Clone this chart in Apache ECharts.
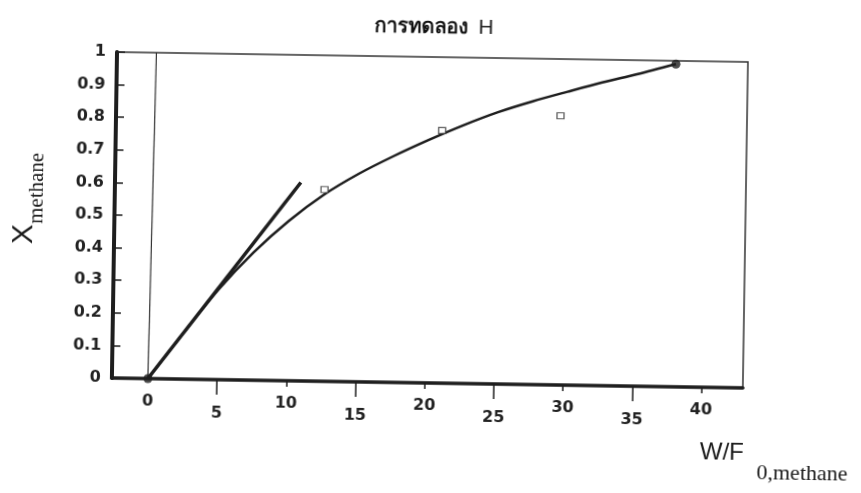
<!DOCTYPE html>
<html>
<head>
<meta charset="utf-8">
<script src="https://cdn.jsdelivr.net/npm/echarts@6/dist/echarts.min.js"></script>
<style>
html,body{margin:0;padding:0;background:#fff;overflow:hidden;}
#c{position:absolute;left:0;top:0;width:861px;height:493px;transform:rotate(0.9deg);transform-origin:50% 50%;}
</style>
</head>
<body>
<div id="c"></div>
<script>
// ---- data ----
const titleMain = 'การทดลอง';
const titleSuffix = 'H';
const xMajorLabels = [0, 10, 20, 30, 40];
const xMinorLabels = [5, 15, 25, 35];
const xShortTicks = [10, 20, 30, 40];
const xLongTicks = [5, 15, 25, 35];
const curveX = [0, 2.5, 5, 7.5, 10, 12.5, 15, 17.5, 20, 22.5, 25, 27.5, 30, 32.5, 35, 37.8];
const curveY = [0, 0.14, 0.276, 0.392, 0.49, 0.572, 0.638, 0.694, 0.745, 0.792, 0.834, 0.869, 0.9, 0.93, 0.957, 0.99];
const tangentX = [0, 10.83];
const tangentY = [0, 0.609];
const squareX = [12.55, 20.98, 29.52];
const squareY = [0.588, 0.775, 0.826];
const dotX = [0, 37.8];
const dotY = [0, 0.99];
const refLineX = [0, 0.25];
const refLineY = [0, 1];

const zip = (a, b) => a.map((v, i) => [v, b[i]]);
const ink = '#1e1e1e';
const tickFont = { fontFamily: 'DejaVu Sans', fontWeight: 'bold', fontSize: 16, color: '#222' };

const chart = echarts.init(document.getElementById('c'), null, { renderer: 'canvas' });
chart.setOption({
  animation: false,
  backgroundColor: '#fff',
  title: {
    text: '{t|' + titleMain + '}  {h|' + titleSuffix + '}',
    left: 'center',
    top: 12,
    textStyle: {
      rich: {
        t: { fontSize: 20, fontWeight: 'bold', color: '#111', fontFamily: 'Noto Sans, DejaVu Sans, sans-serif' },
        h: { fontSize: 21, fontWeight: 'normal', color: '#222', fontFamily: 'Liberation Sans, Arial, sans-serif' }
      }
    }
  },
  grid: { left: 114, right: 116, top: 57, bottom: 110, show: true, borderColor: '#333', borderWidth: 1.5, backgroundColor: 'transparent' },
  xAxis: [
    {
      type: 'value', min: -2.6, max: 43, position: 'bottom',
      axisLine: { show: true, onZero: false, lineStyle: { color: ink, width: 3.5 } },
      axisTick: { show: true, customValues: xShortTicks, length: 6, lineStyle: { color: ink, width: 1.5 } },
      axisLabel: Object.assign({ customValues: xMajorLabels, margin: 15 }, tickFont),
      splitLine: { show: false }
    },
    {
      type: 'value', min: -2.6, max: 43, position: 'bottom', offset: 0,
      axisLine: { show: false, onZero: false },
      axisTick: { show: true, customValues: xLongTicks, length: 15, lineStyle: { color: ink, width: 1.5 } },
      axisLabel: Object.assign({ customValues: xMinorLabels, margin: 26 }, tickFont),
      splitLine: { show: false }
    }
  ],
  yAxis: {
    type: 'value', min: 0, max: 1, interval: 0.1,
    axisLine: { show: true, onZero: false, lineStyle: { color: ink, width: 4 } },
    axisTick: { show: true, inside: true, length: 8, lineStyle: { color: ink, width: 1.5 } },
    axisLabel: Object.assign({ margin: 11 }, tickFont),
    splitLine: { show: false }
  },
  graphic: [
    {
      type: 'group', x: 23.3, y: 240.4, rotation: Math.PI / 2,
      children: [
        { type: 'text', x: 0, y: 0, style: { text: 'X', font: '30px "Liberation Sans", Arial, sans-serif', fill: '#1a1a1a', align: 'center', verticalAlign: 'middle' } },
        { type: 'text', x: 46, y: 13, style: { text: 'methane', font: '21px "Liberation Serif", serif', fill: '#1a1a1a', align: 'center', verticalAlign: 'middle' } }
      ]
    },
    { type: 'text', x: 703, y: 448.5, style: { text: 'W/F', font: '24px "Liberation Sans", Arial, sans-serif', fill: '#1a1a1a', align: 'left', verticalAlign: 'middle' } },
    { type: 'text', x: 760, y: 468, style: { text: '0,methane', font: '22px "Liberation Serif", serif', fill: '#1a1a1a', align: 'left', verticalAlign: 'middle' } }
  ],
  series: [
    { type: 'line', data: zip(refLineX, refLineY), symbol: 'none', lineStyle: { color: '#333', width: 1.2 }, clip: false, z: 2 },
    { type: 'line', data: zip(tangentX, tangentY), symbol: 'none', lineStyle: { color: ink, width: 3.5 }, clip: false, z: 3 },
    { type: 'line', data: zip(curveX, curveY), symbol: 'none', smooth: 0.3, lineStyle: { color: ink, width: 2.5 }, clip: false, z: 3 },
    { type: 'scatter', data: zip(squareX, squareY), symbol: 'rect', symbolSize: [7, 6], itemStyle: { color: '#fff', borderColor: '#333', borderWidth: 1.2 }, clip: false, z: 4 },
    { type: 'scatter', data: zip(dotX, dotY), symbol: 'circle', symbolSize: 9, itemStyle: { color: ink }, clip: false, z: 5 }
  ]
});
</script>
</body>
</html>
